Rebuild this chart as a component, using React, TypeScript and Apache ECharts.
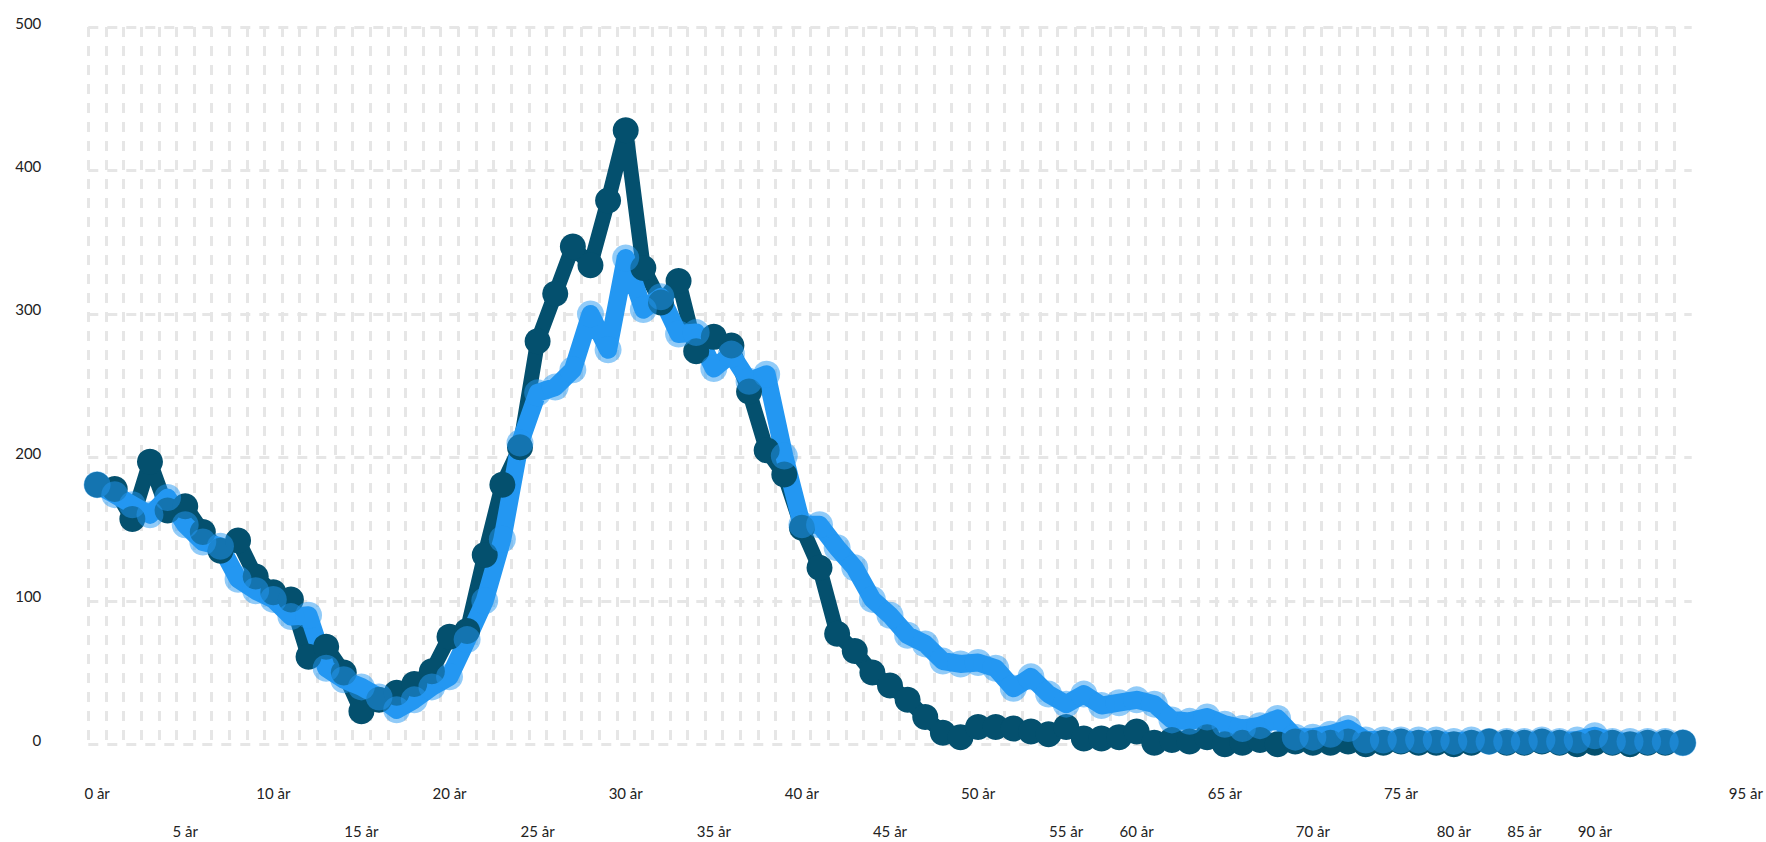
import React, { useEffect, useRef } from "react";
import * as echarts from "echarts";

// Series values, one per age step (index 0..90)
const darkValues = [
  181, 178, 157, 197, 163, 166, 148, 135, 142, 117,
  106, 101, 61, 68, 50, 23, 31, 36, 42, 51,
  75, 79, 132, 181, 207, 281, 314, 347, 334, 379,
  428, 332, 308, 323, 274, 284, 278, 246, 205, 188,
  151, 123, 77, 65, 50, 41, 31, 19, 8, 5,
  12, 12, 11, 9, 7, 12, 4, 4, 5, 9,
  1, 3, 2, 5, 0, 1, 3, 0, 2, 1,
  1, 2, 0, 1, 2, 1, 1, 0, 1, 2,
  1, 1, 2, 1, 0, 1, 1, 0, 1, 1,
  1,
];

const lightValues = [
  181, 174, 167, 160, 172, 153, 141, 138, 115, 107,
  101, 89, 90, 53, 45, 40, 33, 24, 31, 40,
  47, 73, 100, 143, 210, 245, 249, 261, 300, 275,
  339, 303, 312, 286, 287, 262, 272, 253, 258, 201,
  153, 153, 137, 123, 101, 90, 76, 70, 58, 56,
  57, 53, 39, 47, 35, 28, 35, 27, 29, 31,
  28, 17, 16, 19, 14, 11, 13, 18, 5, 5,
  7, 11, 3, 3, 3, 3, 3, 2, 3, 2,
  2, 2, 3, 2, 3, 6, 2, 2, 2, 2,
  1,
];

// Axis label texts and the step index each one sits at
const topTickLabels = ["0 år", "10 år", "20 år", "30 år", "40 år", "50 år", "65 år", "75 år"];
const topTickPos = [0, 10, 20, 30, 40, 50, 64, 74];
const bottomTickLabels = ["5 år", "15 år", "25 år", "35 år", "45 år", "55 år", "60 år", "70 år", "80 år", "85 år", "90 år"];
const bottomTickPos = [5, 15, 25, 35, 45, 55, 59, 69, 77, 81, 85];
const endTickLabel = "95 år";

const yTicks = [0, 100, 200, 300, 400, 500];

const DARK = "#04506E";
const LIGHT = "#2397F2";
const LIGHT_SYMBOL = "rgba(35,151,242,0.5)";
const GRID_COLOR = "#e6e6e6";
const TEXT_COLOR = "#222";
const FONT = "Lato";

export default function App() {
  const ref = useRef<HTMLDivElement>(null);

  useEffect(() => {
    if (!ref.current) return;
    const chart = echarts.init(ref.current, null, { renderer: "svg" });
    const n = darkValues.length; // number of steps

    const textBase = { fontSize: 15, color: TEXT_COLOR, fontFamily: FONT };

    const labelAxis = (pos: number[], texts: string[], margin: number, extra: any = {}) => ({
      type: "value",
      position: "bottom",
      min: 0,
      max: n,
      axisLine: { show: false },
      axisTick: { show: false },
      splitLine: { show: false },
      axisLabel: {
        ...textBase,
        customValues: pos.map((p) => p + 0.5),
        margin,
        formatter: (val: number) => {
          const k = pos.findIndex((p) => Math.abs(p + 0.5 - val) < 1e-6);
          return k >= 0 ? texts[k] : "";
        },
      },
      ...extra,
    });

    const option: any = {
      animation: false,
      backgroundColor: "#ffffff",
      grid: { left: 88.3, right: 74.3, top: 27, bottom: 97.7 },
      xAxis: [
        {
          type: "value",
          min: 0,
          max: n,
          interval: 1,
          axisLine: { show: false },
          axisTick: { show: false },
          axisLabel: { show: false },
          splitLine: {
            show: true,
            showMaxLine: false,
            lineStyle: { color: GRID_COLOR, width: 3, type: [10, 9] },
          },
        },
        labelAxis(topTickPos, topTickLabels, 41, {
          name: `{n|${endTickLabel}}`,
          nameLocation: "end",
          nameGap: 37,
          nameTextStyle: {
            ...textBase,
            rich: { n: { ...textBase, padding: [98, 0, 0, 0] } },
          },
        }),
        labelAxis(bottomTickPos, bottomTickLabels, 79),
      ],
      yAxis: {
        type: "value",
        min: yTicks[0],
        max: yTicks[yTicks.length - 1],
        interval: yTicks[1] - yTicks[0],
        axisLine: { show: false },
        axisTick: { show: false },
        axisLabel: {
          ...textBase,
          margin: 47,
          formatter: "{p|{value}}",
          rich: { p: { ...textBase, padding: [0, 0, 9, 0] } },
        },
        splitLine: {
          show: true,
          lineStyle: { color: GRID_COLOR, width: 3, type: [10, 9] },
        },
      },
      series: [
        {
          type: "line",
          xAxisIndex: 0,
          data: darkValues.map((v, i) => [i + 0.5, v]),
          symbol: "circle",
          symbolSize: 26,
          showSymbol: true,
          clip: false,
          lineStyle: { color: DARK, width: 15, join: "round" },
          itemStyle: { color: DARK, borderWidth: 0 },
          emphasis: { disabled: true },
        },
        {
          type: "line",
          xAxisIndex: 0,
          data: lightValues.map((v, i) => [i + 0.5, v]),
          symbol: "circle",
          symbolSize: 27,
          showSymbol: true,
          clip: false,
          lineStyle: { color: LIGHT, width: 18, join: "round" },
          itemStyle: { color: LIGHT_SYMBOL, borderWidth: 0 },
          emphasis: { disabled: true },
        },
      ],
    };

    chart.setOption(option);
    return () => chart.dispose();
  }, []);

  return (
    <div
      ref={ref}
      style={{ position: "fixed", left: 0, top: 0, width: 1766, height: 842, background: "#fff" }}
    />
  );
}
